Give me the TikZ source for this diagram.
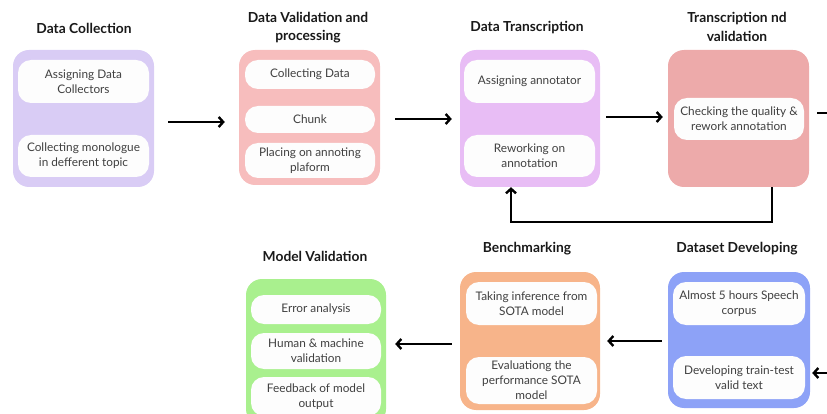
\documentclass[tikz,border=0pt]{standalone}
\usepackage{fontspec}
\setmainfont{Lato}
\usetikzlibrary{arrows.meta}

\definecolor{lavender}{HTML}{D9CCF5}
\definecolor{rosepink}{HTML}{F7BDBD}
\definecolor{orchid}{HTML}{E8BDF5}
\definecolor{dustyrose}{HTML}{EDAAAA}
\definecolor{mint}{HTML}{A9F08E}
\definecolor{peach}{HTML}{F7B48A}
\definecolor{periwinkle}{HTML}{8DA2F7}
\definecolor{innerfill}{HTML}{FDFDFD}
\definecolor{bodytext}{HTML}{404040}

\tikzset{
  x=1pt, y=-1pt,
  stagebox/.style={rounded corners=16pt, draw=none, inner sep=0pt},
  taskbox/.style={rounded corners=13pt, fill=innerfill, draw=none, inner sep=0pt,
    align=center, text=bodytext,
    font=\fontsize{11.8}{15}\selectfont},
  heading/.style={align=center, text=black!90, font=\fontsize{13.8}{18.4}\selectfont\bfseries},
  flow/.style={line width=2.4pt, -{Straight Barb[length=4.5pt,width=10pt]}}
}

\begin{document}
\begin{tikzpicture}
\useasboundingbox (0,0) rectangle (827,414);
\clip (0,0) rectangle (827,414);

% ---- top row: stage panels ----
\node[stagebox, fill=lavender, minimum width=141pt, minimum height=137pt] (dc) at (83.5,118.5) {};
\node[stagebox, fill=rosepink, minimum width=141pt, minimum height=135pt] (dv) at (309.5,117.5) {};
\node[stagebox, fill=orchid, minimum width=140pt, minimum height=137pt] (dt) at (530,118.5) {};
\node[stagebox, fill=dustyrose, minimum width=141pt, minimum height=137pt] (tv) at (738.5,118.5) {};

% ---- bottom row: stage panels ----
\node[stagebox, fill=mint, minimum width=140pt, minimum height=146pt] (mv) at (316,352) {};
\node[stagebox, fill=peach, minimum width=140pt, minimum height=138pt] (bm) at (530,341) {};
\node[stagebox, fill=periwinkle, minimum width=142pt, minimum height=136pt] (dd) at (739,340) {};

% ---- headings ----
\node[heading] (h1) at (84,28) {Data Collection};
\node[heading] (h2) at (308,27.5) {Data Validation and\\processing};
\node[heading] (h3) at (527,28) {Data Transcription};
\node[heading] (h4) at (737,27) {Transcription nd\\validation};
\node[heading] (h5) at (315,256) {Model Validation};
\node[heading] (h6) at (527,249) {Benchmarking};
\node[heading] (h7) at (737,249) {Dataset Developing};

% ---- tasks inside each stage ----
\node[taskbox, minimum width=131pt, minimum height=43pt] (dc1) at (83.5,81.5) {Assigning Data\\Collectors};
\node[taskbox, minimum width=131pt, minimum height=42pt] (dc2) at (83.5,156) {Collecting monologue\\in defferent topic};

\node[taskbox, minimum width=130pt, minimum height=29pt] (dv1) at (310,74.5) {Collecting Data};
\node[taskbox, minimum width=130pt, minimum height=27pt] (dv2) at (310,119.5) {Chunk};
\node[taskbox, minimum width=130pt, minimum height=35pt] (dv3) at (310,160.5) {Placing on annoting\\plaform};

\node[taskbox, minimum width=131pt, minimum height=43pt] (dt1) at (529.5,81.5) {Assigning annotator};
\node[taskbox, minimum width=131pt, minimum height=42pt] (dt2) at (529.5,156) {Reworking on\\annotation};

\node[taskbox, minimum width=130pt, minimum height=42pt] (tv1) at (739,119) {Checking the quality \&\\rework annotation};

\node[taskbox, minimum width=130pt, minimum height=29pt] (mv1) at (316,309.5) {Error analysis};
\node[taskbox, minimum width=130pt, minimum height=36pt] (mv2) at (316,351) {Human \& machine\\validation};
\node[taskbox, minimum width=130pt, minimum height=39pt] (mv3) at (316,396.5) {Feedback of model\\output};

\node[taskbox, minimum width=131pt, minimum height=43pt] (bm1) at (531.5,303.5) {Taking inference from\\SOTA model};
\node[taskbox, minimum width=131pt, minimum height=47pt] (bm2) at (531.5,380.5) {Evaluationg the\\performance SOTA\\model};

\node[taskbox, minimum width=132pt, minimum height=43pt] (dd1) at (739,303.5) {Almost 5 hours Speech\\corpus};
\node[taskbox, minimum width=132pt, minimum height=43pt] (dd2) at (739,377.5) {Developing train-test\\valid text};

% ---- loose ends running off the sheet ----
\coordinate (outR) at (845,113);
\coordinate (inR) at (845,373);

% ---- connectors (horizontal, level with the start point) ----
\draw[flow, shorten <=14pt, shorten >=14pt] ([yshift=-3.5pt]dc.east) -- ([yshift=-3.5pt]dc.east -| dv.west);
\draw[flow, shorten <=15pt, shorten >=8pt] ([yshift=-1.5pt]dv.east) -- ([yshift=-1.5pt]dv.east -| dt.west);
\draw[flow, shorten <=6pt, shorten >=5pt] ([yshift=1.5pt]dt.east) -- ([yshift=1.5pt]dt.east -| tv.west);
\draw[flow, shorten <=8pt] ([yshift=5.5pt]tv.east) -- (outR);
\draw[flow] ([xshift=33.5pt]tv.south) -- ++(0,35) -| ([xshift=-19pt]dt.south);

\draw[flow, shorten <=6pt, shorten >=7pt] ([yshift=-1pt]dd.west) -- ([yshift=-1pt]dd.west -| bm.east);
\draw[flow, shorten <=8pt, shorten >=9pt] ([yshift=-3pt]bm.west) -- ([yshift=-3pt]bm.west -| mv.east);
\draw[flow, shorten >=2pt] (inR) -- (dd.east |- inR);
\end{tikzpicture}
\end{document}
